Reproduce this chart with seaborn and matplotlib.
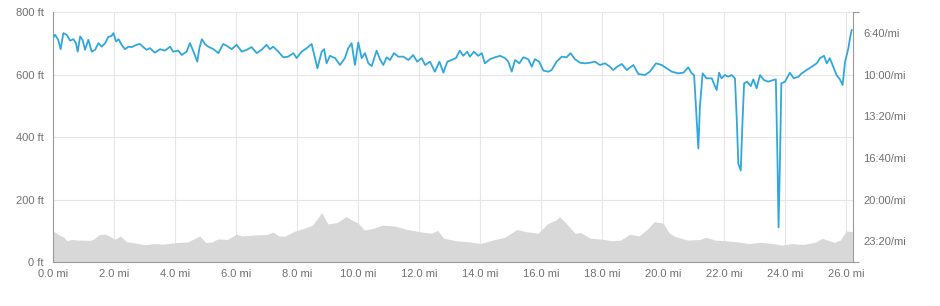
import matplotlib
matplotlib.use("Agg")
import matplotlib.pyplot as plt
import seaborn as sns
import pandas as pd
import numpy as np
from matplotlib.ticker import FuncFormatter, FixedLocator

# ---------------- data ----------------
elev_mi = [0.0, 0.2, 0.35, 0.45, 0.6, 0.8, 1.0, 1.2, 1.3, 1.5, 1.7, 1.9, 2.0, 2.2, 2.4, 2.8,
           3.0, 3.3, 3.6, 4.0, 4.4, 4.8, 5.0, 5.2, 5.4, 5.7, 6.0, 6.2, 6.5, 7.0, 7.2, 7.4,
           7.6, 7.9, 8.2, 8.5, 8.8, 9.0, 9.3, 9.6, 9.8, 10.0, 10.2, 10.5, 10.8, 11.2, 11.6,
           12.0, 12.4, 12.6, 12.8, 13.2, 13.6, 14.0, 14.4, 14.8, 15.2, 15.5, 15.9, 16.2,
           16.5, 16.6, 16.9, 17.1, 17.3, 17.6, 18.0, 18.3, 18.6, 18.9, 19.2, 19.5, 19.7,
           20.0, 20.2, 20.4, 20.8, 21.2, 21.4, 21.7, 22.0, 22.4, 22.8, 23.2, 23.6, 23.9,
           24.2, 24.6, 25.0, 25.2, 25.6, 25.8, 26.0, 26.2]
elev_ft = [100, 87, 80, 69, 73, 71, 71, 70, 73, 88, 90, 81, 73, 84, 66, 60,
           56, 60, 58, 63, 65, 84, 63, 65, 75, 73, 90, 84, 87, 89, 97, 84,
           84, 99, 108, 119, 159, 123, 127, 146, 135, 125, 103, 109, 119, 116, 105,
           98, 93, 102, 77, 69, 66, 60, 71, 80, 105, 98, 93, 123,
           137, 146, 116, 93, 95, 77, 74, 69, 71, 90, 84, 108, 130,
           125, 93, 82, 71, 73, 80, 71, 69, 66, 60, 64, 60, 55,
           60, 57, 65, 77, 64, 71, 100, 98]

pace_mi = [0.00, 0.06, 0.16, 0.24, 0.33, 0.44, 0.55, 0.66, 0.74, 0.80, 0.88, 0.96, 1.04, 1.15,
           1.26, 1.37, 1.48, 1.59, 1.70, 1.80, 1.91, 1.97, 2.06, 2.14, 2.24, 2.35, 2.46,
           2.57, 2.73, 2.84, 2.95, 3.06, 3.17, 3.33, 3.50, 3.66, 3.83, 3.93, 4.10, 4.21,
           4.37, 4.48, 4.61, 4.72, 4.79, 4.87, 4.97, 5.08, 5.25, 5.41, 5.57, 5.69, 5.85,
           6.01, 6.18, 6.34, 6.50, 6.67, 6.83, 6.99, 7.10, 7.21, 7.38, 7.54, 7.70, 7.87,
           7.98, 8.14, 8.31, 8.47, 8.58, 8.66, 8.80, 8.88, 8.96, 9.07, 9.24, 9.40, 9.56,
           9.67, 9.78, 9.89, 10.00, 10.11, 10.22, 10.33, 10.44, 10.60, 10.71, 10.82, 10.93,
           11.04, 11.17, 11.31, 11.48, 11.64, 11.80, 11.93, 12.08, 12.19, 12.35, 12.51,
           12.66, 12.79, 12.92, 13.06, 13.20, 13.33, 13.44, 13.57, 13.66, 13.79, 13.93,
           14.05, 14.15, 14.32, 14.48, 14.65, 14.81, 14.92, 15.03, 15.14, 15.28, 15.41,
           15.57, 15.69, 15.79, 15.93, 16.07, 16.23, 16.34, 16.50, 16.67, 16.83, 16.96,
           17.10, 17.27, 17.43, 17.60, 17.76, 17.92, 18.09, 18.25, 18.36, 18.49, 18.64,
           18.80, 19.02, 19.18, 19.40, 19.56, 19.76, 19.95, 20.11, 20.28, 20.49, 20.66,
           20.82, 20.93, 21.01, 21.07, 21.15, 21.20, 21.29, 21.42, 21.59, 21.70, 21.75,
           21.83, 21.91, 22.02, 22.13, 22.24, 22.35, 22.41, 22.46, 22.54, 22.59, 22.65,
           22.75, 22.87, 22.95, 23.06, 23.17, 23.30, 23.44, 23.61, 23.69, 23.74, 23.78,
           23.83, 23.87, 23.99, 24.15, 24.28, 24.43, 24.54, 24.70, 24.87, 25.03, 25.14,
           25.27, 25.36, 25.46, 25.57, 25.68, 25.79, 25.88, 25.96, 26.07, 26.12, 26.18]
pace_sec = [420, 408, 432, 477, 400, 408, 436, 429, 447, 489, 416, 432, 480, 432,
            489, 480, 448, 465, 448, 419, 413, 400, 440, 429, 456, 477, 465,
            467, 456, 452, 467, 480, 472, 494, 477, 484, 465, 489, 484, 505,
            489, 448, 494, 537, 472, 429, 452, 465, 477, 496, 452, 461, 477,
            456, 489, 480, 467, 496, 480, 456, 477, 465, 489, 516, 513, 496,
            520, 489, 472, 452, 520, 569, 489, 477, 545, 509, 520, 553, 520,
            472, 448, 553, 445, 520, 496, 545, 558, 484, 525, 553, 516,
            529, 496, 513, 513, 529, 505, 537, 520, 553, 537, 585,
            537, 590, 537, 529, 520, 484, 509, 489, 513, 489, 509,
            496, 545, 525, 516, 509, 520, 537, 585, 529, 545, 516,
            525, 561, 525, 537, 580, 585, 577, 537, 513, 516, 496,
            525, 542, 545, 542, 537, 553, 545, 561, 577, 561, 548,
            577, 553, 596, 601, 585, 545, 553, 569, 585, 593, 590,
            564, 593, 601, 754, 954, 754, 593, 617, 617, 657, 673,
            590, 617, 601, 609, 601, 617, 818, 1027, 1059, 850, 641,
            633, 654, 622, 665, 601, 625, 633, 625, 622, 978, 1332,
            978, 641, 633, 590, 617, 609, 593, 577, 561, 545, 520,
            509, 545, 520, 561, 601, 622, 649, 537, 472, 424, 384]

x_ticks = [0, 2, 4, 6, 8, 10, 12, 14, 16, 18, 20, 22, 24, 26]
elev_ticks = [0, 200, 400, 600, 800]
pace_ticks = [400, 600, 800, 1000, 1200, 1400]

elev_df = pd.DataFrame({"mi": elev_mi, "ft": elev_ft})
pace_df = pd.DataFrame({"mi": pace_mi, "pace": pace_sec})

# ---------------- style ----------------
sns.set_theme(style="white")
plt.rcParams["font.family"] = ["Liberation Sans", "DejaVu Sans"]

TEXT = "#707070"
AXIS = "#9a9a9a"
GRID = "#e6e6e6"
BLUE = "#31a8dc"
FILL = "#d8d8d8"
XMAX = 26.23

fig = plt.figure(figsize=(9.4, 3.06), dpi=100)
ax = fig.add_axes([53.3 / 940, 1 - 262.3 / 306, 800 / 940, 250 / 306])

# elevation area
ax.fill_between(elev_df["mi"], 0, elev_df["ft"], color=FILL, linewidth=0, zorder=2)
ax.set_xlim(0, XMAX)
ax.set_ylim(0, 800)

ax.xaxis.set_major_locator(FixedLocator(x_ticks))
ax.yaxis.set_major_locator(FixedLocator(elev_ticks))
ax.xaxis.set_major_formatter(FuncFormatter(lambda v, p: f"{v:.1f} mi"))
ax.yaxis.set_major_formatter(FuncFormatter(lambda v, p: f"{v:.0f} ft"))
ax.xaxis.set_minor_locator(FixedLocator([0, XMAX]))
ax.yaxis.set_minor_locator(FixedLocator([0, 800]))
ax.tick_params(axis="both", which="major", length=0, labelsize=8, labelcolor=TEXT)
ax.tick_params(axis="y", which="major", pad=7)
ax.tick_params(axis="x", which="major", pad=4.5)
ax.tick_params(axis="both", which="minor", length=4, width=0.8, color=AXIS, direction="out")
ax.grid(True, which="major", color=GRID, linewidth=0.8, zorder=0)
ax.grid(False, which="minor")
ax.set_axisbelow(True)
for s in ["top", "right"]:
    ax.spines[s].set_visible(False)
for s in ["left", "bottom"]:
    ax.spines[s].set_color(AXIS)
    ax.spines[s].set_linewidth(0.8)
ax.set_xlabel("")
ax.set_ylabel("")

# pace line on the right axis
ax2 = ax.twinx()
sns.lineplot(data=pace_df, x="mi", y="pace", ax=ax2, color=BLUE, linewidth=1.3, zorder=5)
ax2.set_ylim(1500, 300)
ax2.set_xlim(0, XMAX)
ax2.yaxis.set_major_locator(FixedLocator(pace_ticks))
ax2.yaxis.set_major_formatter(FuncFormatter(lambda v, p: f"{int(v)//60}:{int(v)%60:02d}/mi"))
ax2.yaxis.set_minor_locator(FixedLocator([300, 1500]))
ax2.tick_params(axis="y", which="major", length=0, labelsize=8, labelcolor=TEXT, pad=7)
ax2.tick_params(axis="y", which="minor", length=4, width=0.8, color=AXIS, direction="out")
ax2.grid(False)
for s in ["top", "left", "bottom"]:
    ax2.spines[s].set_visible(False)
ax2.spines["right"].set_color(AXIS)
ax2.spines["right"].set_linewidth(0.8)
ax2.set_xlabel("")
ax2.set_ylabel("")

fig.savefig("out.png", dpi=100, facecolor="white")
